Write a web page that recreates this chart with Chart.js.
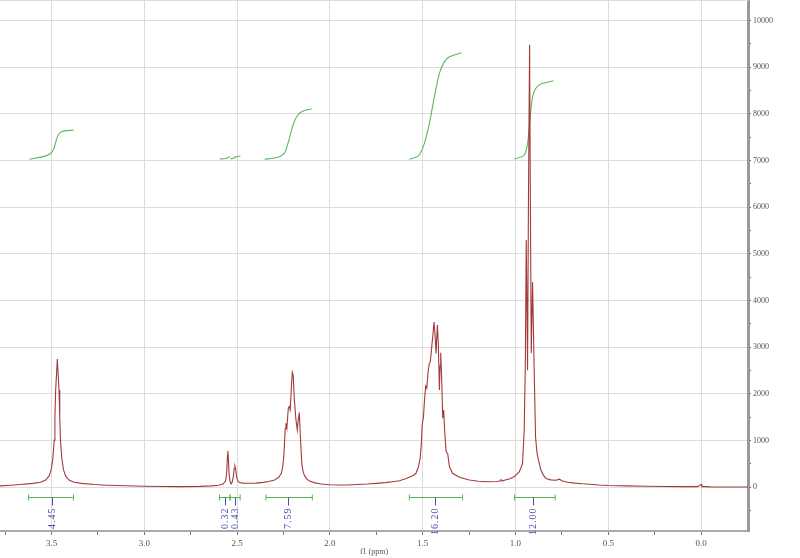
<!DOCTYPE html>
<html>
<head>
<meta charset="utf-8">
<script src="https://cdn.jsdelivr.net/npm/chart.js@4"></script>
<style>
  body { margin: 0; background: #fff; }
  .chart-wrap { width: 800px; height: 558px; position: relative; }
</style>
</head>
<body>
<div class="chart-wrap"><canvas class="js-chart"></canvas></div>
<script>
// spectrum (ppm, intensity), rows of 10
const specPpm = [
    3.78, 3.72, 3.669, 3.599, 3.559, 3.532, 3.514, 3.502, 3.493, 3.486,
    3.482, 3.478, 3.473, 3.469, 3.465, 3.460, 3.456, 3.452, 3.445, 3.436,
    3.424, 3.406, 3.379, 3.339, 3.269, 3.20, 3.10, 3.00, 2.90, 2.80,
    2.70, 2.64, 2.60, 2.575, 2.562, 2.556, 2.552, 2.550, 2.547, 2.543,
    2.538, 2.532, 2.527, 2.521, 2.516, 2.512, 2.508, 2.503, 2.497, 2.488,
    2.470, 2.440, 2.400, 2.360, 2.330, 2.298, 2.275, 2.262, 2.255, 2.248,
    2.241, 2.237, 2.232, 2.227, 2.224, 2.219, 2.214, 2.208, 2.203, 2.198,
    2.192, 2.184, 2.176, 2.171, 2.165, 2.158, 2.151, 2.144, 2.137, 2.124,
    2.110, 2.08, 2.047, 2.00, 1.957, 1.90, 1.85, 1.80, 1.75, 1.70,
    1.665, 1.625, 1.589, 1.554, 1.536, 1.523, 1.514, 1.507, 1.503, 1.496,
    1.489, 1.484, 1.478, 1.471, 1.464, 1.459, 1.453, 1.446, 1.439, 1.433,
    1.428, 1.421, 1.416, 1.410, 1.406, 1.403, 1.398, 1.392, 1.387, 1.382,
    1.374, 1.365, 1.356, 1.339, 1.302, 1.249, 1.20, 1.15, 1.10, 1.085,
    1.078, 1.072, 1.06, 1.03, 1.006, 0.979, 0.962, 0.953, 0.947, 0.942,
    0.935, 0.930, 0.924, 0.920, 0.915, 0.908, 0.900, 0.892, 0.884, 0.876,
    0.863, 0.850, 0.836, 0.81, 0.79, 0.775, 0.763, 0.75, 0.72, 0.68,
    0.64, 0.60, 0.55, 0.50, 0.40, 0.30, 0.20, 0.10, 0.02, 0.005,
    0.0, -0.005, -0.05, -0.15, -0.26
];
const specInt = [
    30, 45, 60, 85, 110, 156, 240, 380, 620, 1010,
    1500, 2087, 2450, 2750, 2450, 2087, 1500, 1010, 620, 380,
    240, 156, 110, 85, 60, 45, 32, 22, 16, 15,
    20, 30, 45, 75, 140, 330, 700, 785, 600, 260,
    120, 75, 110, 220, 400, 456, 400, 230, 140, 105,
    90, 88, 90, 105, 125, 155, 220, 300, 420, 690,
    1260, 1370, 1270, 1550, 1700, 1730, 1660, 2120, 2465, 2400,
    1900, 1480, 1230, 1440, 1600, 980, 480, 330, 250, 175,
    135, 95, 70, 55, 50, 50, 60, 70, 85, 100,
    120, 140, 190, 250, 300, 440, 620, 940, 1335, 1510,
    1940, 2170, 2120, 2480, 2660, 2690, 2940, 3230, 3540, 3230,
    2870, 3480, 3085, 2085, 2620, 2885, 2370, 1480, 1655, 1230,
    765, 715, 440, 300, 215, 155, 130, 120, 125, 135,
    165, 135, 150, 185, 230, 335, 510, 1230, 2660, 5300,
    2510, 6230, 9480, 6230, 2870, 4400, 2660, 1085, 730, 585,
    370, 260, 190, 160, 150, 160, 175, 140, 110, 90,
    75, 65, 50, 40, 30, 22, 18, 15, 15, 50,
    60, 20, 10, 8, 5
];

// integral curves (ppm, value)
const int1Ppm = [3.620, 3.545, 3.509, 3.491, 3.477, 3.464, 3.446, 3.380];
const int1Val = [7030, 7085, 7140, 7225, 7405, 7550, 7620, 7655];
const int2Ppm = [2.594, 2.56, 2.548, 2.538];
const int2Val = [7035, 7045, 7065, 7080];
const int3Ppm = [2.535, 2.515, 2.505, 2.483];
const int3Val = [7035, 7060, 7085, 7095];
const int4Ppm = [2.352, 2.30, 2.27, 2.245, 2.235, 2.22, 2.205, 2.19, 2.175, 2.16, 2.14, 2.12, 2.099];
const int4Val = [7030, 7055, 7090, 7160, 7260, 7450, 7680, 7860, 7960, 8030, 8070, 8090, 8105];
const int5Ppm = [1.572, 1.54, 1.518, 1.491, 1.464, 1.437, 1.410, 1.383, 1.356, 1.290];
const int5Val = [7030, 7065, 7120, 7370, 7800, 8370, 8870, 9120, 9225, 9310];
const int6Ppm = [1.006, 0.953, 0.935, 0.922, 0.908, 0.890, 0.863, 0.795];
const int6Val = [7030, 7120, 7370, 7870, 8370, 8550, 8640, 8710];

// integration brackets and labels
const intFrom = [3.624, 2.595, 2.538, 2.345, 1.572, 1.005];
const intTo = [3.382, 2.538, 2.484, 2.095, 1.285, 0.786];
const intLabelPpm = [3.50, 2.566, 2.512, 2.224, 1.432, 0.903];
const intLabels = ['4.45', '0.32', '0.43', '7.59', '16.20', '12.00'];

// axis ticks
const xTicks = [3.75, 3.5, 3.25, 3.0, 2.75, 2.5, 2.25, 2.0, 1.75, 1.5, 1.25, 1.0, 0.75, 0.5, 0.25, 0.0];
const yTicks = [-500, 0, 500, 1000, 1500, 2000, 2500, 3000, 3500, 4000, 4500, 5000, 5500, 6000, 6500, 7000, 7500, 8000, 8500, 9000, 9500, 10000];

const toPoints = function(xs, ys){
    return xs.map((x, i) => ({x: x, y: ys[i]}))
}

const isMajorX = v => Math.abs(v * 2 - Math.round(v * 2)) < 1e-6
const isMajorY = v => v % 1000 === 0

const integralPlugin = {
    id: 'integrals',
    afterDatasetsDraw(chart){
        const ctx = chart.ctx
        const xs = chart.scales.x
        const ys = chart.scales.y
        const yb = Math.round(ys.getPixelForValue(-210)) + 0.5
        ctx.save()
        // top frame line
        ctx.strokeStyle = '#dddddd'
        ctx.lineWidth = 1
        ctx.beginPath()
        ctx.moveTo(chart.chartArea.left, 0.5)
        ctx.lineTo(chart.chartArea.right, 0.5)
        ctx.stroke()
        for(let i = 0; i < intFrom.length; i++){
            const x1 = xs.getPixelForValue(intFrom[i])
            const x2 = xs.getPixelForValue(intTo[i])
            ctx.strokeStyle = '#55b455'
            ctx.lineWidth = 1
            ctx.beginPath()
            ctx.moveTo(x1, yb); ctx.lineTo(x2, yb)
            ctx.moveTo(x1, yb - 3); ctx.lineTo(x1, yb + 3)
            ctx.moveTo(x2, yb - 3); ctx.lineTo(x2, yb + 3)
            ctx.stroke()
            const xl = Math.round(xs.getPixelForValue(intLabelPpm[i])) + 0.5
            ctx.strokeStyle = '#4a4ab8'
            ctx.beginPath()
            ctx.moveTo(xl, yb); ctx.lineTo(xl, yb + 8)
            ctx.stroke()
            ctx.save()
            ctx.translate(xl, yb + 10)
            ctx.rotate(-Math.PI / 2)
            ctx.fillStyle = '#4a4ab8'
            ctx.font = '10px "Liberation Serif", serif'
            ctx.letterSpacing = '1px'
            ctx.textAlign = 'right'
            ctx.textBaseline = 'middle'
            ctx.fillText(intLabels[i], 0, 0)
            ctx.restore()
        }
        ctx.restore()
    }
}

const initChart = function(){
    const green = '#5cb85c'
    const intSets = [[int1Ppm, int1Val], [int2Ppm, int2Val], [int3Ppm, int3Val], [int4Ppm, int4Val], [int5Ppm, int5Val], [int6Ppm, int6Val]]

    const datasets = [{
        label: 'spectrum',
        data: toPoints(specPpm, specInt),
        borderColor: '#a33a3a',
        borderWidth: 1.1,
        pointRadius: 0,
        tension: 0
    }]
    for(const s of intSets){
        datasets.push({
            label: 'integral',
            data: toPoints(s[0], s[1]),
            borderColor: green,
            borderWidth: 1.1,
            pointRadius: 0,
            tension: 0.3
        })
    }

    const config = {
        type: 'line',
        data: {datasets: datasets},
        plugins: [integralPlugin],
        options: {
            responsive: true,
            maintainAspectRatio: false,
            animation: false,
            layout: {padding: 0},
            plugins: {
                legend: {display: false},
                tooltip: {enabled: false}
            },
            scales: {
                x: {
                    type: 'linear',
                    reverse: true,
                    min: -0.253,
                    max: 3.778,
                    afterBuildTicks: s => { s.ticks = xTicks.map(v => ({value: v})) },
                    afterFit: s => { s.height = 27; s.paddingLeft = 0; s.paddingRight = 0 },
                    grid: {
                        color: c => (c.tick && isMajorX(c.tick.value)) ? '#dcdcdc' : 'rgba(0,0,0,0)',
                        tickColor: '#777',
                        tickLength: 4,
                        lineWidth: 1
                    },
                    border: {color: '#aaaaaa', width: 2},
                    ticks: {
                        color: '#555',
                        font: {family: '"Liberation Serif", serif', size: 9},
                        padding: 3,
                        maxRotation: 0,
                        autoSkip: false,
                        callback: v => isMajorX(v) ? v.toFixed(1) : ''
                    },
                    title: {
                        display: true,
                        text: 'f1 (ppm)',
                        color: '#555',
                        font: {family: '"Liberation Serif", serif', size: 8},
                        padding: {top: 0, bottom: 1}
                    }
                },
                y: {
                    type: 'linear',
                    position: 'right',
                    min: -936,
                    max: 10441,
                    afterBuildTicks: s => { s.ticks = yTicks.map(v => ({value: v})) },
                    afterFit: s => { s.width = 52; s.paddingTop = 0; s.paddingBottom = 0 },
                    grid: {
                        color: c => (c.tick && isMajorY(c.tick.value)) ? '#dcdcdc' : 'rgba(0,0,0,0)',
                        tickColor: '#666',
                        tickLength: 3,
                        lineWidth: 1
                    },
                    border: {color: '#999999', width: 3},
                    ticks: {
                        color: '#555',
                        font: {family: '"Liberation Serif", serif', size: 8},
                        padding: 2,
                        autoSkip: false,
                        callback: v => isMajorY(v) ? String(v) : ''
                    }
                }
            }
        }
    }

    const chart = new Chart(document.querySelector('.js-chart'), config)
}

document.addEventListener("DOMContentLoaded", function () {
    initChart();
});
</script>
</body>
</html>
